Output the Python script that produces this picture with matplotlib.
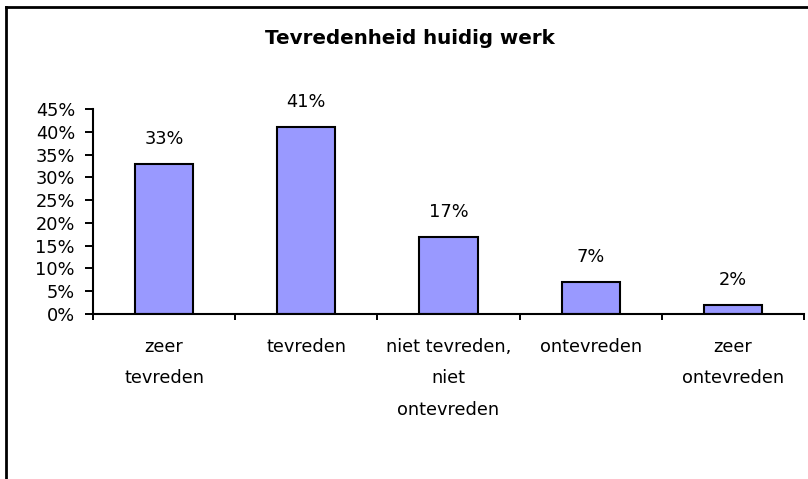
import matplotlib
matplotlib.use("Agg")
import matplotlib.pyplot as plt
from matplotlib.lines import Line2D
import numpy as np

categories = ["zeer\ntevreden", "tevreden", "niet tevreden,\nniet\nontevreden",
              "ontevreden", "zeer\nontevreden"]
values = [0.33, 0.41, 0.17, 0.07, 0.02]
yticks = [0, 0.05, 0.10, 0.15, 0.20, 0.25, 0.30, 0.35, 0.40, 0.45]

plt.rcParams['font.family'] = ['DejaVu Sans']
fs = 12.8

fig = plt.figure(figsize=(8.08, 4.79), dpi=100)
ax = fig.add_axes([93 / 808, 1 - 314 / 479, (804 - 93) / 808, (314 - 109) / 479])

x = np.arange(len(values))
ax.bar(x, values, width=0.41, color='#9999FF', edgecolor='black', linewidth=1.5)

for xi, v in zip(x, values):
    ax.annotate(f"{round(v * 100)}%", (xi, v), xytext=(0, 11.5), textcoords='offset points',
                ha='center', va='bottom', fontsize=fs)

ax.set_xlim(-0.5, len(values) - 0.5)
ax.set_ylim(0, 0.45)
ax.set_yticks(yticks)
ax.set_yticklabels([f"{round(t * 100)}%" for t in yticks], fontsize=fs)
ax.tick_params(axis='y', length=5.5, width=1.4, pad=7.5)

ax.set_xticks(np.arange(len(values) + 1) - 0.5)
ax.set_xticklabels([])
ax.set_xticks(x, minor=True)
ax.set_xticklabels(categories, minor=True, fontsize=fs, linespacing=1.98)
ax.tick_params(axis='x', which='major', length=4.5, width=1.4)
ax.tick_params(axis='x', which='minor', length=0, pad=17)

for s in ['top', 'right']:
    ax.spines[s].set_visible(False)
for s in ['left', 'bottom']:
    ax.spines[s].set_linewidth(1.5)

fig.text(410 / 808, 1 - 38 / 479, "Tevredenheid huidig werk", ha='center', va='center',
         fontsize=14.3, fontweight='bold')

# outer frame: only top and left edges visible
fig.add_artist(Line2D([6 / 808, 1], [1 - 7 / 479] * 2, color='black', linewidth=2,
                      transform=fig.transFigure))
fig.add_artist(Line2D([6 / 808] * 2, [0, 1 - 7 / 479], color='black', linewidth=2,
                      transform=fig.transFigure))

fig.savefig("out.png", dpi=100)
